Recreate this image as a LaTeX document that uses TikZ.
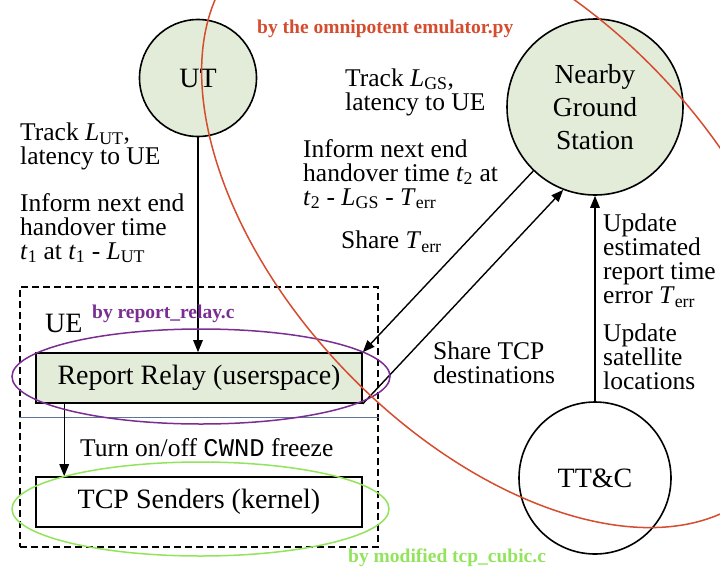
\documentclass[tikz,border=0pt]{standalone}
\usepackage{fontspec}
\setmainfont{Liberation Serif}
\setmonofont{Liberation Mono}
\usetikzlibrary{arrows.meta,positioning}
\definecolor{gsfill}{RGB}{227,236,216}
\definecolor{emucol}{RGB}{213,76,46}
\definecolor{relaycol}{RGB}{122,46,146}
\definecolor{cubiccol}{RGB}{146,228,92}
\definecolor{sepcol}{RGB}{96,116,150}
\newcommand{\Lut}{\textit{L}\textsubscript{UT}}
\newcommand{\Lgs}{\textit{L}\textsubscript{GS}}
\newcommand{\Terr}{\textit{T}\textsubscript{err}}
\newcommand{\labelfont}{\fontsize{25.5}{24}\selectfont}

\begin{document}
\begin{tikzpicture}[x=1pt, y=-1pt,
    station/.style={circle, draw=black, line width=1.6pt, inner sep=0pt,
        font=\fontsize{28}{30}\selectfont},
    layer/.style={draw=black, line width=1.6pt, minimum width=326pt,
        minimum height=50pt, inner sep=0pt, font=\fontsize{28}{30}\selectfont},
    note/.style={anchor=west, align=left, inner sep=0pt, font=\labelfont},
    byline/.style={anchor=base west, inner sep=0pt,
        font=\fontsize{19.5}{20}\selectfont\bfseries},
    flow/.style={-{Triangle[length=12pt,width=9.5pt]}, line width=1.4pt},
    owner/.style={line width=1.5pt}]

\useasboundingbox (0,0) rectangle (720,576);

% the UE and its two layers
\node[draw, dash pattern=on 7pt off 4pt, line width=1.5pt, minimum width=358pt,
    minimum height=260pt] (ue) at (199,417) {};
\draw[sepcol, line width=0.8pt] (ue.west) -- (ue.east);
\node[anchor=west, inner sep=0pt, font=\fontsize{28}{30}\selectfont] (uename) at (45,323) {UE};

\node[station, fill=gsfill, minimum size=117pt] (ut) at (198,78) {UT};
\node[station, fill=gsfill, minimum size=176pt, align=center,
    font=\fontsize{27.5}{33}\selectfont] (gs) at (595,107) {Nearby\\Ground\\Station};
\node[station, fill=white, minimum size=152pt] (ttc) at (595,478) {TT\&C};
\node[layer, fill=gsfill] (relay) at (199,378) {Report Relay (userspace)};
\node[layer, fill=white] (tcp) at (199,502) {TCP Senders (kernel)};

\draw[flow] (ut) -- (ut |- relay.north);
\draw[flow] ([xshift=29pt]relay.south west) -- ([xshift=29pt]tcp.north west);
\draw[flow] (gs.226) -- (relay.north east);
\draw[flow] (relay.south east) -- (gs.249);
\draw[flow] (ttc) -- (gs);

% what travels along the links
\node[note] (trackut) at (20,146.5) {Track \Lut,\\latency to UE};
\node[note] (informut) at (20,228) {Inform next end\\handover time\\\textit{t}\textsubscript{1} at \textit{t}\textsubscript{1} - \Lut};
\node[note] (trackgs) at (345,92) {Track \Lgs,\\latency to UE};
\node[note] (informgs) at (303,174) {Inform next end\\handover time \textit{t}\textsubscript{2} at\\\textit{t}\textsubscript{2} - \Lgs{} - \Terr};
\node[note] (shareerr) at (341,242) {Share \Terr};
\node[note] (updateerr) at (603,261) {Update\\estimated\\report time\\error \Terr};
\node[note] (updatesat) at (603,357) {Update\\satellite\\locations};
\node[note] (sharetcp) at (433,363) {Share TCP\\destinations};
\node[note] (freeze) at (80,448) {Turn on/off \texttt{CWND} freeze};

% who implements what
\draw[relaycol, owner] (201,376.5) ellipse (189 and 47.5);
\draw[cubiccol, owner] (200.5,509) ellipse (188.5 and 47);
\draw[emucol, owner, rotate around={-46:(502,222)}] (502,222) ellipse (370 and 216);
\node[byline, text=emucol] (byemu) at (257,33) {by the omnipotent emulator.py};
\node[byline, text=relaycol] (byrelay) at (92,318) {by report\_relay.c};
\node[byline, text=cubiccol] (bycubic) at (348,562) {by modified tcp\_cubic.c};

\end{tikzpicture}
\end{document}
